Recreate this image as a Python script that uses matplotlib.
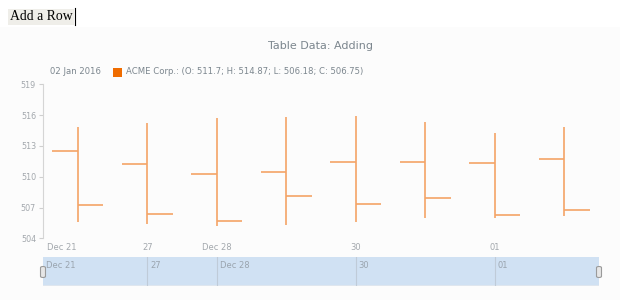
import matplotlib.pyplot as plt
from matplotlib.patches import Rectangle, FancyBboxPatch

# OHLC data (last bar taken from the legend)
dates = ["Dec 26", "Dec 27", "Dec 28", "Dec 29", "Dec 30", "Dec 31", "Jan 01", "Jan 02"]
opens = [512.5, 511.2, 510.3, 510.45, 511.4, 511.45, 511.3, 511.7]
highs = [514.83, 515.25, 515.67, 515.83, 515.93, 515.28, 514.24, 514.87]
lows = [505.57, 505.37, 505.15, 505.28, 505.6, 505.93, 505.93, 506.18]
closes = [507.27, 506.35, 505.7, 508.15, 507.37, 507.92, 506.25, 506.75]

tick_pos = [1, 2, 4, 6]
tick_labels = ["27", "Dec 28", "30", "01"]
first_label = "Dec 21"
y_ticks = [504, 507, 510, 513, 516, 519]

W, H = 620, 300
bar_color = "#f4a466"
grey_text = "#7c868e"
tick_grey = "#a3a8ad"


def fx(px):
    return px / W


def fy(py):
    return 1 - py / H


fig = plt.figure(figsize=(6.2, 3.0), dpi=100)
fig.patch.set_facecolor("white")

# faint chart container background
fig.patches.append(Rectangle((0, 0), 1, fy(27), transform=fig.transFigure,
                             facecolor="#fcfcfc", edgecolor="none", zorder=-10))

# "Add a Row" button
fig.text(fx(10), fy(17), "Add a Row", family="Liberation Serif", fontsize=9.9,
         color="black", va="center", ha="left",
         bbox=dict(boxstyle="square,pad=0.12", facecolor="#efeee9", edgecolor="none"))
fig.lines.append(plt.Line2D([fx(75), fx(75)], [fy(8), fy(25)], transform=fig.transFigure,
                            color="black", lw=0.8, zorder=5))

# title and legend
fig.text(fx(320), fy(46), "Table Data: Adding", fontsize=8, color=grey_text,
         ha="center", va="center")
fig.text(fx(50), fy(72), "02 Jan 2016", fontsize=6.1, color=grey_text, va="center")
fig.patches.append(Rectangle((fx(113), fy(77)), fx(9), 9 / H, transform=fig.transFigure,
                             facecolor="#ef6c00", edgecolor="none"))
legend = "ACME Corp.: (O: {}; H: {}; L: {}; C: {})".format(opens[-1], highs[-1], lows[-1], closes[-1])
fig.text(fx(126), fy(72), legend, fontsize=6.1, color=grey_text, va="center")

# main OHLC plot
ax = fig.add_axes([fx(43), fy(238.3), fx(556), 154.0 / H])
ax.set_facecolor("none")
half = 0.37
for i in range(len(dates)):
    ax.plot([i, i], [lows[i], highs[i]], color=bar_color, lw=1.2, solid_capstyle="butt")
    ax.plot([i - half, i], [opens[i], opens[i]], color=bar_color, lw=1.2, solid_capstyle="butt")
    ax.plot([i, i + half], [closes[i], closes[i]], color=bar_color, lw=1.2, solid_capstyle="butt")

ax.set_xlim(-0.5, 7.5)
ax.set_ylim(504, 519)
ax.set_yticks(y_ticks)
ax.set_yticklabels([str(v) for v in y_ticks])
ax.tick_params(axis="y", colors="#cfcfcf", labelcolor=tick_grey, labelsize=5.8,
               length=3, width=0.8, pad=2)
ax.set_xticks(tick_pos)
ax.set_xticklabels(tick_labels)
ax.tick_params(axis="x", length=0, labelcolor=tick_grey, labelsize=6, pad=3.5)
ax.text(0.007, -0.032, first_label, transform=ax.transAxes, fontsize=6, color=tick_grey,
        ha="left", va="top")
for s in ["top", "right", "bottom"]:
    ax.spines[s].set_visible(False)
ax.spines["left"].set_color("#d5d5d5")
ax.spines["left"].set_linewidth(0.8)

# scroller
sc = fig.add_axes([fx(43), fy(286), fx(556), 29.0 / H])
sc.set_xlim(-0.5, 7.5)
sc.set_ylim(0, 1)
sc.set_facecolor("#d0e1f3")
for s in sc.spines.values():
    s.set_visible(False)
sc.axhline(0, color="#e3e8ee", lw=1.2)
sc.set_xticks([])
sc.set_yticks([])
for p, lab in zip(tick_pos, tick_labels):
    sc.axvline(p, color="#bfcbd8", lw=0.8)
    sc.text(p + 0.04, 0.72, lab, fontsize=6, color="#9aa4ae", va="center", ha="left")
sc.text(0.005, 0.72, first_label, transform=sc.transAxes, fontsize=6, color="#9aa4ae",
        va="center", ha="left")

# scroller handles
for hx in [43, 599]:
    fig.patches.append(FancyBboxPatch((fx(hx - 2.5), fy(277.5)), fx(5), 11.0 / H,
                                      boxstyle="round,pad=0,rounding_size=0.004",
                                      transform=fig.transFigure, facecolor="#e6e6e6",
                                      edgecolor="#9a9a9a", lw=0.8, zorder=5))

fig.savefig("out.png", dpi=100)
